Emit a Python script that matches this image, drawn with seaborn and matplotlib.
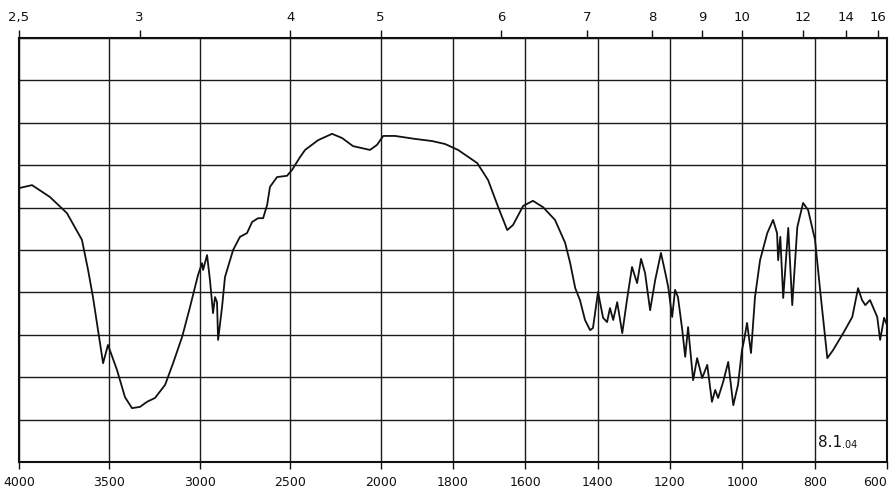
import numpy as np
import pandas as pd
import matplotlib
matplotlib.use("Agg")
import matplotlib.pyplot as plt
import seaborn as sns

# Wavenumbers (cm^-1) and transmittance (%) of the recorded IR trace
wavenumber = [
    4000, 3928, 3829, 3735, 3652, 3618, 3591, 3563, 3535, 3508,
    3458, 3414, 3375, 3331, 3292, 3248, 3192, 3148, 3098, 3054,
    3010, 2988, 2982, 2960, 2944, 2927, 2916, 2905, 2899, 2877,
    2861, 2816, 2778, 2739, 2711, 2678, 2650, 2628, 2612, 2573,
    2518, 2490, 2446, 2418, 2346, 2269, 2213, 2153, 2059, 2020,
    1993, 1960, 1905, 1858, 1822, 1786, 1733, 1703, 1675, 1650,
    1634, 1606, 1579, 1551, 1518, 1490, 1476, 1462, 1449, 1435,
    1421, 1413, 1399, 1385, 1374, 1366, 1357, 1346, 1332, 1319,
    1305, 1291, 1280, 1269, 1255, 1241, 1225, 1213, 1205, 1194,
    1186, 1178, 1166, 1158, 1150, 1136, 1125, 1111, 1097, 1084,
    1075, 1067, 1053, 1039, 1025, 1012, 1001, 995, 987, 976,
    965, 951, 931, 915, 904, 901, 895, 887, 873, 862,
    848, 832, 818, 799, 785, 765, 749, 721, 696, 680,
    669, 660, 647, 627, 619, 608, 600,
]
transmittance = [
    64.6, 65.3, 62.5, 58.7, 52.4, 45.3, 38.9, 31.1, 23.3, 27.6,
    21.7, 15.3, 12.7, 13.0, 14.2, 15.1, 18.2, 23.3, 29.5, 36.6,
    44.1, 46.9, 45.3, 48.8, 42.9, 35.1, 38.9, 37.7, 28.8, 36.6,
    43.6, 50.0, 53.1, 54.0, 56.6, 57.5, 57.5, 60.6, 64.9, 67.2,
    67.5, 68.9, 71.9, 73.6, 75.9, 77.4, 76.4, 74.5, 73.6, 74.8,
    76.9, 76.9, 76.2, 75.7, 75.0, 73.6, 70.5, 66.5, 60.1, 54.7,
    55.9, 60.4, 61.6, 60.1, 57.1, 51.7, 46.9, 41.0, 38.2, 33.5,
    31.1, 31.6, 40.1, 34.0, 33.0, 36.3, 33.5, 37.7, 30.4, 38.2,
    46.0, 42.2, 47.9, 44.6, 35.8, 42.9, 49.3, 44.6, 41.3, 34.2,
    40.6, 38.9, 31.1, 24.8, 31.8, 19.3, 24.5, 19.8, 22.9, 14.2,
    17.0, 15.1, 18.9, 23.6, 13.4, 18.2, 26.4, 28.8, 32.8, 25.7,
    38.9, 47.6, 54.0, 57.1, 54.0, 47.6, 53.1, 38.7, 55.2, 37.0,
    55.4, 61.1, 59.4, 52.4, 40.6, 24.5, 26.4, 30.4, 34.2, 41.0,
    38.2, 37.0, 38.2, 34.2, 28.8, 34.0, 32.3,
]

# Axis ticks: wavenumber below, wavelength (micrometres) above
bottom_ticks = [4000, 3500, 3000, 2500, 2000, 1800, 1600, 1400, 1200, 1000, 800, 600]
top_microns = [2.5, 3, 4, 5, 6, 7, 8, 9, 10, 12, 14, 16]
top_labels = ["2,5", "3", "4", "5", "6", "7", "8", "9", "10", "12", "14", "16"]
chart_id_main = "8.1"
chart_id_sub = ".04"

df = pd.DataFrame({"wavenumber": wavenumber, "T": transmittance})

sns.set_style("white")
plt.rcParams["font.family"] = ["Liberation Sans Narrow", "DejaVu Sans"]


# Chart paper scale: the region below 2000 cm^-1 is stretched by a factor of two
def fwd(w):
    w = np.asarray(w, dtype=float)
    return np.where(w >= 2000, w, 2 * w - 2000)


def inv(v):
    v = np.asarray(v, dtype=float)
    return np.where(v >= 2000, v, (v + 2000) / 2)


fig = plt.figure(figsize=(8.94, 4.91), dpi=100)
ax = fig.add_axes([19 / 894, 1 - 462 / 491, 868 / 894, 424 / 491])
ax.set_xscale("function", functions=(fwd, inv))

sns.lineplot(data=df, x="wavenumber", y="T", sort=False, estimator=None,
             color="#111111", linewidth=1.3, ax=ax)
for ln in ax.get_lines():
    ln.set_solid_joinstyle("round")

ax.set_xlim(4000, 600)
ax.set_ylim(0, 100)
ax.set_xticks(bottom_ticks)
ax.set_xticklabels([str(t) for t in bottom_ticks])
ax.set_yticks(np.arange(0, 101, 10))
ax.set_yticklabels([])
ax.minorticks_off()
ax.tick_params(axis="x", direction="out", length=5, width=1.0, pad=5,
               labelsize=9, colors="#111111")
ax.tick_params(axis="y", length=0)
ax.grid(True, color="#1a1a1a", linewidth=1.0)
ax.set_xlabel("")
ax.set_ylabel("")
for s in ax.spines.values():
    s.set_linewidth(1.5)
    s.set_color("#111111")
# keep the last wavenumber label inside the figure edge
ax.get_xticklabels()[-1].set_horizontalalignment("right")
ax.get_xticklabels()[-1].set_x(600)

ax2 = ax.twiny()
ax2.set_xscale("function", functions=(fwd, inv))
ax2.set_xlim(ax.get_xlim())
ax2.set_xticks([10000 / m for m in top_microns])
ax2.set_xticklabels(top_labels)
ax2.minorticks_off()
ax2.tick_params(axis="x", direction="out", length=6, width=1.0, pad=4,
                labelsize=9.5, colors="#111111")
ax2.grid(False)
for s in ax2.spines.values():
    s.set_visible(False)

t1 = ax.text(0.920, 0.035, chart_id_main, transform=ax.transAxes,
             fontsize=11, va="baseline", ha="left", color="#111111")
ax.annotate(chart_id_sub, xy=(1.0, 0.0), xycoords=t1, fontsize=7,
            va="bottom", ha="left", color="#111111")

fig.savefig("out.png", dpi=100)
